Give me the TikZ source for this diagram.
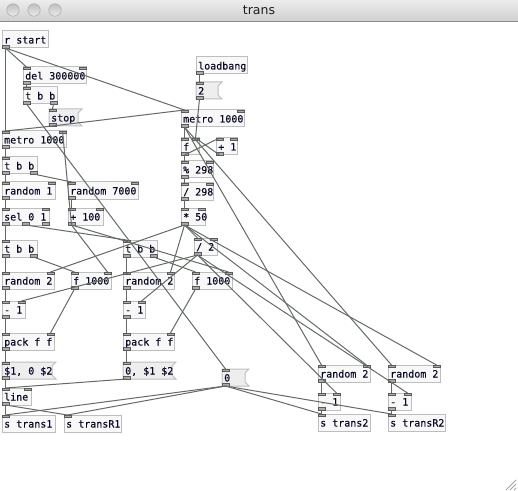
\documentclass[tikz,border=0pt]{standalone}
\usepackage{fontspec}
\newfontfamily\pdfont{DejaVu Sans Mono}[FakeBold=0.3]
\newfontfamily\titlefont{DejaVu Sans}
\definecolor{pdline}{RGB}{100,106,100}
\definecolor{pdborder}{RGB}{190,190,190}
\definecolor{pdfill}{RGB}{248,248,248}
\definecolor{msgfill}{RGB}{238,238,238}
\definecolor{pdport}{RGB}{90,90,90}
\definecolor{pdtext}{RGB}{10,10,40}
\definecolor{bartop}{RGB}{236,236,236}
\definecolor{barbot}{RGB}{208,208,208}
\definecolor{barline}{RGB}{140,140,140}
\definecolor{titletext}{RGB}{30,30,30}
\tikzset{
  objbox/.style={draw=pdborder, fill=pdfill, line width=1bp, anchor=north west, minimum height=17bp, inner sep=0pt, outer sep=0pt},
  msgbox/.style={anchor=north west, minimum height=17bp, inner sep=0pt, outer sep=0pt},
  msgshape/.style={draw=pdborder, fill=msgfill, line width=1bp},
  pdtxt/.style={anchor=base west, inner sep=0pt, font=\pdfont\fontsize{10bp}{12bp}\selectfont, text=pdtext},
  port/.style={draw=pdport, fill=pdport!50, line width=0.7bp},
  conn/.style={draw=pdline, line width=1bp},
}
\newcommand\pdports[6]{%
  \ifnum#5>0
    \foreach \k in {1,...,#5}{%
      \ifnum#5=1 \pgfmathsetmacro\px{#2}\else\pgfmathsetmacro\px{#2+(\k-1)*(#4-7)/(#5-1)}\fi
      \filldraw[port] (\px,#3) rectangle ++(7,2.5);
      \coordinate (#1-i\k) at (\px+3.5,#3);
    }%
  \fi
  \ifnum#6>0
    \foreach \k in {1,...,#6}{%
      \ifnum#6=1 \pgfmathsetmacro\px{#2}\else\pgfmathsetmacro\px{#2+(\k-1)*(#4-7)/(#6-1)}\fi
      \filldraw[port] (\px,#3+17) rectangle ++(7,-2.5);
      \coordinate (#1-o\k) at (\px+3.5,#3+17);
    }%
  \fi
}
\newcommand\pdobj[7]{%
  \node[objbox, minimum width=#4bp] (#1) at (#2,#3) {};
  \node[pdtxt] (#1-t) at ([xshift=2bp,yshift=-4bp]#1.west) {#5};
  \pdports{#1}{#2}{#3}{#4}{#6}{#7}}
\newcommand\pdmsg[7]{%
  \node[msgbox, minimum width=#4bp] (#1) at (#2,#3) {};
  \filldraw[msgshape] (#1.north west) -- (#1.north east) -- ([xshift=-4bp,yshift=-4bp]#1.north east) -- ([xshift=-4bp,yshift=4bp]#1.south east) -- (#1.south east) -- (#1.south west) -- cycle;
  \node[pdtxt] (#1-t) at ([xshift=2bp,yshift=-4bp]#1.west) {#5};
  \pdports{#1}{#2}{#3}{#4}{#6}{#7}}
\begin{document}
\begin{tikzpicture}[x=1bp,y=-1bp]
\useasboundingbox (0,0) rectangle (518,491);
\fill[white] (0,0) rectangle (518,491);
% title bar
\shade[top color=bartop, bottom color=barbot] (0,0) rectangle (518,21);
\draw[barline, line width=1bp] (0,21.5) -- (518,21.5);
\foreach \cx in {13,34,55}{
  \shade[top color=gray!50, bottom color=gray!15, draw=gray!65, line width=0.6bp] (\cx,10) circle (6.2);
}
\node[font=\titlefont\fontsize{12.5bp}{14bp}\selectfont, text=titletext] (title) at (259,10.5) {trans};
% resize grip
\draw[gray!70, line width=0.8bp] (506,490) -- (516,480) (510,490) -- (516,484) (514,490) -- (516,488);

% objects
\pdobj{rstart}{2}{31}{46}{r start}{0}{1}
\pdobj{del}{23}{67}{63}{del 300000}{2}{1}
\pdobj{tbbA}{23}{87}{34}{t b b}{1}{2}
\pdmsg{stop}{49}{109}{33}{stop}{1}{1}
\pdobj{metroL}{2}{131}{64}{metro 1000}{2}{1}
\pdobj{tbbB}{2}{157}{35}{t b b}{1}{2}
\pdobj{randOne}{2}{182}{53}{random 1}{2}{1}
\pdobj{randSeven}{68}{182}{70}{random 7000}{2}{1}
\pdobj{sel}{2}{208}{47}{sel 0 1}{2}{3}
\pdobj{plusHund}{68}{208}{35}{+ 100}{2}{1}
\pdobj{loadbang}{196}{57}{51}{loadbang}{0}{1}
\pdmsg{two}{196}{82}{26}{2}{1}{1}
\pdobj{metroR}{181}{110}{63}{metro 1000}{2}{1}
\pdobj{cnt}{181}{138}{18}{f}{2}{1}
\pdobj{plusOne}{216}{138}{21}{+ 1}{2}{1}
\pdobj{mod}{181}{161}{32}{\% 298}{2}{1}
\pdobj{divA}{181}{183}{32}{/ 298}{2}{1}
\pdobj{mul}{181}{208}{24}{* 50}{2}{1}
\pdobj{tbbC}{2}{240}{35}{t b b}{1}{2}
\pdobj{tbbD}{123}{240}{34}{t b b}{1}{2}
\pdobj{divB}{194}{238}{23}{/ 2}{2}{1}
\pdobj{randA}{2}{272}{52}{random 2}{2}{1}
\pdobj{fA}{71}{272}{40}{f 1000}{2}{1}
\pdobj{randB}{123}{272}{51}{random 2}{2}{1}
\pdobj{fB}{192}{272}{40}{f 1000}{2}{1}
\pdobj{minA}{2}{301}{23}{- 1}{2}{1}
\pdobj{minB}{123}{301}{22}{- 1}{2}{1}
\pdobj{packA}{2}{333}{52}{pack f f}{2}{1}
\pdobj{packB}{123}{333}{51}{pack f f}{2}{1}
\pdmsg{msgA}{2}{362}{54}{\$1, 0 \$2}{1}{1}
\pdmsg{msgB}{123}{362}{53}{0, \$1 \$2}{1}{1}
\pdmsg{zero}{222}{369}{27}{0}{1}{1}
\pdobj{line}{2}{388}{29}{line}{2}{1}
\pdobj{sA}{2}{415}{53}{s trans1}{1}{0}
\pdobj{sRA}{64}{415}{57}{s transR1}{1}{0}
\pdobj{randC}{318}{365}{52}{random 2}{2}{1}
\pdobj{randD}{388}{365}{52}{random 2}{2}{1}
\pdobj{minC}{318}{393}{22}{- 1}{2}{1}
\pdobj{minD}{388}{393}{23}{- 1}{2}{1}
\pdobj{sB}{318}{414}{52}{s trans2}{1}{0}
\pdobj{sRB}{388}{414}{57}{s transR2}{1}{0}

% connections
\draw[conn] (rstart-o1) -- (metroL-i1);
\draw[conn] (rstart-o1) -- (del-i1);
\draw[conn] (rstart-o1) -- (metroR-i1);
\draw[conn] (del-o1) -- (tbbA-i1);
\draw[conn] (tbbA-o2) -- (stop-i1);
\draw[conn] (tbbA-o1) -- (zero-i1);
\draw[conn] (stop-o1) -- (metroL-i1);
\draw[conn] (stop-o1) -- (metroR-i1);
\draw[conn] (metroL-o1) -- (tbbB-i1);
\draw[conn] (tbbB-o1) -- (randOne-i1);
\draw[conn] (tbbB-o2) -- (randSeven-i1);
\draw[conn] (randOne-o1) -- (sel-i1);
\draw[conn] (randSeven-o1) -- (plusHund-i1);
\draw[conn] (plusHund-o1) -- (metroL-i2);
\draw[conn] (plusHund-o1) -- (fA-i2);
\draw[conn] (plusHund-o1) -- (fB-i2);
\draw[conn] (sel-o1) -- (tbbC-i1);
\draw[conn] (sel-o2) -- (tbbD-i1);
\draw[conn] (loadbang-o1) -- (two-i1);
\draw[conn] (two-o1) -- (cnt-i2);
\draw[conn] (metroR-o1) -- (cnt-i1);
\draw[conn] (metroR-o1) -- (randC-i1);
\draw[conn] (metroR-o1) -- (randD-i1);
\draw[conn] (cnt-o1) -- (plusOne-i1);
\draw[conn] (plusOne-o1) -- (cnt-i2);
\draw[conn] (cnt-o1) -- (mod-i1);
\draw[conn] (mod-o1) -- (divA-i1);
\draw[conn] (divA-o1) -- (mul-i1);
\draw[conn] (mul-o1) -- (divB-i1);
\draw[conn] (mul-o1) -- (randA-i2);
\draw[conn] (mul-o1) -- (randB-i2);
\draw[conn] (mul-o1) -- (randC-i2);
\draw[conn] (mul-o1) -- (randD-i2);
\draw[conn] (divB-o1) -- (minA-i2);
\draw[conn] (divB-o1) -- (minB-i2);
\draw[conn] (divB-o1) -- (minC-i2);
\draw[conn] (divB-o1) -- (minD-i2);
\draw[conn] (tbbC-o1) -- (randA-i1);
\draw[conn] (tbbC-o2) -- (fA-i1);
\draw[conn] (tbbD-o1) -- (randB-i1);
\draw[conn] (tbbD-o2) -- (fB-i1);
\draw[conn] (randA-o1) -- (minA-i1);
\draw[conn] (minA-o1) -- (packA-i1);
\draw[conn] (fA-o1) -- (packA-i2);
\draw[conn] (packA-o1) -- (msgA-i1);
\draw[conn] (msgA-o1) -- (line-i1);
\draw[conn] (randB-o1) -- (minB-i1);
\draw[conn] (minB-o1) -- (packB-i1);
\draw[conn] (fB-o1) -- (packB-i2);
\draw[conn] (packB-o1) -- (msgB-i1);
\draw[conn] (msgB-o1) -- (line-i1);
\draw[conn] (line-o1) -- (sA-i1);
\draw[conn] (line-o1) -- (sRA-i1);
\draw[conn] (zero-o1) -- (sA-i1);
\draw[conn] (zero-o1) -- (sRA-i1);
\draw[conn] (zero-o1) -- (sB-i1);
\draw[conn] (zero-o1) -- (sRB-i1);
\draw[conn] (randC-o1) -- (minC-i1);
\draw[conn] (minC-o1) -- (sB-i1);
\draw[conn] (randD-o1) -- (minD-i1);
\draw[conn] (minD-o1) -- (sRB-i1);
\end{tikzpicture}
\end{document}
